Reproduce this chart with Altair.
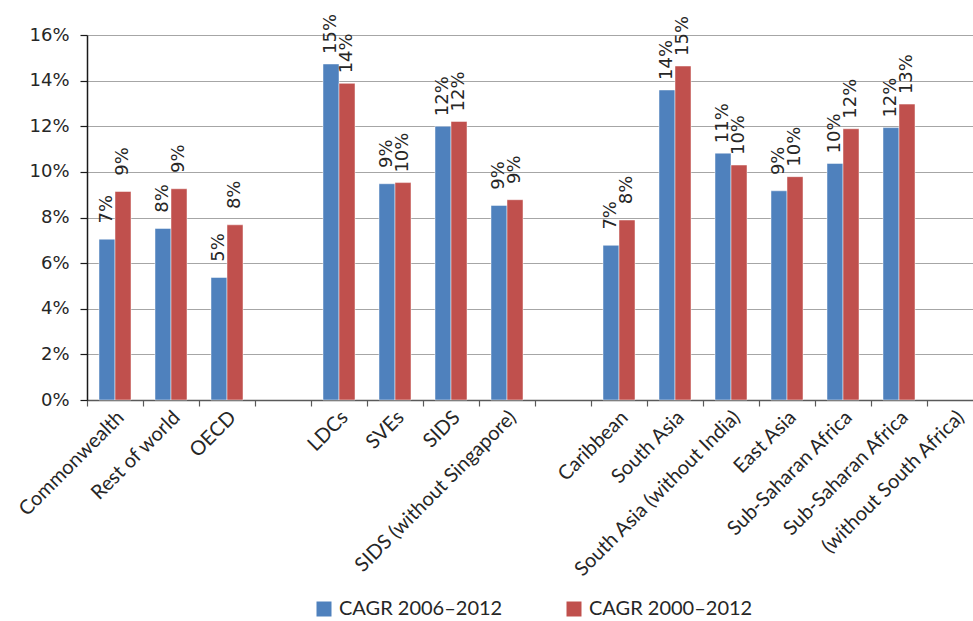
import altair as alt
import pandas as pd

# Category slots along the x axis (blank slots are gaps between groups)
x_slots = ["Commonwealth", "Rest of world", "OECD", " ",
           "LDCs", "SVEs", "SIDS", "SIDS (without Singapore)", "  ",
           "Caribbean", "South Asia", "South Asia (without India)", "East Asia",
           "Sub-Saharan Africa", "Sub-Saharan Africa (without South Africa)",
           "(without South Africa)"]

categories = ["Commonwealth", "Rest of world", "OECD",
              "LDCs", "SVEs", "SIDS", "SIDS (without Singapore)",
              "Caribbean", "South Asia", "South Asia (without India)", "East Asia",
              "Sub-Saharan Africa", "Sub-Saharan Africa (without South Africa)"]

cagr_2006_2012 = [7.05, 7.52, 5.37, 14.73, 9.48, 12.00, 8.53, 6.78, 13.59, 10.82, 9.17, 10.37, 11.94]
cagr_2000_2012 = [9.14, 9.26, 7.68, 13.88, 9.53, 12.21, 8.78, 7.89, 14.64, 10.30, 9.79, 11.89, 12.97]

series = ["CAGR 2006–2012", "CAGR 2000–2012"]
colors = ["#4F81BD", "#C0504D"]

rows = []
for c, a, b in zip(categories, cagr_2006_2012, cagr_2000_2012):
    rows.append({"category": c, "series": series[0], "value": a / 100})
    rows.append({"category": c, "series": series[1], "value": b / 100})
df = pd.DataFrame(rows)

label_expr = ("datum.value == 'Sub-Saharan Africa (without South Africa)' ? "
              "'Sub-Saharan Africa' : trim(datum.value)")

base = alt.Chart(df).encode(
    x=alt.X("category:N",
            scale=alt.Scale(domain=x_slots, range=[0, 896], paddingInner=0, paddingOuter=0),
            axis=alt.Axis(title=None, labelAngle=-45, labelAlign="right", labelBaseline="middle",
                          labelFont="Lato", labelFontSize=20, labelColor="#262626",
                          bandPosition=0, labelOffset=6, labelPadding=8,
                          tickSize=6, tickColor="#595959", tickWidth=1.2,
                          domainColor="#595959", domainWidth=1.6,
                          grid=False, labelLimit=500, labelOverlap=False,
                          labelExpr=label_expr)),
    xOffset=alt.XOffset("series:N",
                        scale=alt.Scale(domain=series, paddingOuter=0.75, paddingInner=0)),
    y=alt.Y("value:Q",
            scale=alt.Scale(domain=[0, 0.16], nice=False),
            axis=alt.Axis(title=None, values=[0, 0.02, 0.04, 0.06, 0.08, 0.10, 0.12, 0.14, 0.16],
                          format=".0%", tickSize=7, tickColor="#1a1a1a", tickWidth=1.2,
                          domainColor="#1a1a1a", domainWidth=1.5,
                          gridColor="#a6a6a6", gridWidth=1.2,
                          labelFont="DejaVu Sans", labelFontSize=18, labelPadding=11,
                          labelColor="#262626")),
)

bars = base.mark_bar(stroke="#ffffff", strokeWidth=0.8, strokeOpacity=0.6).encode(
    color=alt.Color("series:N", scale=alt.Scale(domain=series, range=colors),
                    legend=alt.Legend(title=None, orient="none", legendX=227, legendY=564,
                                      direction="horizontal", symbolType="square",
                                      symbolSize=225, symbolStrokeWidth=0,
                                      labelFont="Lato", labelFontSize=20, labelColor="#262626",
                                      labelOffset=5, columnPadding=61, labelLimit=400))
)

labels = base.mark_text(angle=270, align="center", baseline="middle", dx=30,
                        font="DejaVu Sans", fontSize=18, color="#262626").encode(
    text=alt.Text("value:Q", format=".0%")
)

chart = (bars + labels).properties(
    width=886, height=365,
    autosize=alt.AutoSizeParams(type="none"),
    padding={"left": 87, "top": 35, "right": 0, "bottom": 221},
).configure_view(stroke=None).configure(background="white")

chart.save("out.html", embed_options={"renderer": "svg", "actions": False})
